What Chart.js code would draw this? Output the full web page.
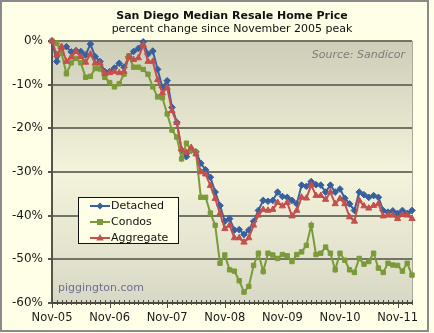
<!DOCTYPE html>
<html>
<head>
<meta charset="utf-8">
<title>San Diego Median Resale Home Price</title>
<script src="https://cdn.jsdelivr.net/npm/chart.js@4.4.1/dist/chart.umd.min.js"></script>
<style>
  html, body { margin: 0; padding: 0; background: #FFFFE8; }
  canvas { display: block; }
</style>
</head>
<body>
<canvas id="priceChart" width="434" height="333"></canvas>
<script>
// monthly series, Nov 2005 .. Feb 2012, % change from the Nov 2005 peak
const monthNames = ['Jan', 'Feb', 'Mar', 'Apr', 'May', 'Jun', 'Jul', 'Aug', 'Sep', 'Oct', 'Nov', 'Dec'];
const months = [];
for (let i = 0; i < 76; i++) {
  const m = (10 + i) % 12;
  const yr = 5 + Math.floor((10 + i) / 12);
  months.push(monthNames[m] + '-' + String(yr).padStart(2, '0'));
}
const yearTicks = ['Nov-05', 'Nov-06', 'Nov-07', 'Nov-08', 'Nov-09', 'Nov-10', 'Nov-11'];

const detached = [
  0, -4.7, -1.7, -1.3, -2.5, -2.2, -2.4, -3.2, -0.7, -3.6,
  -4.7, -7, -7, -6.2, -5.1, -6, -3.6, -2.4, -1.7, -0.2,
  -3, -2.3, -6.5, -10.6, -9.1, -15.2, -18.6, -25, -26.5, -25,
  -25.4, -28, -29.5, -31.2, -34.6, -37.7, -41.3, -40.7, -43.3, -43.2,
  -44.3, -43.3, -41.3, -38.8, -36.5, -36.7, -36.5, -34.6, -35.6, -35.8,
  -36.5, -37.3, -33, -33.3, -32.2, -32.9, -33, -34.6, -33, -34.6,
  -33.9, -36, -37.3, -38.8, -34.6, -35.2, -35.8, -35.4, -35.8, -38.8,
  -39.2, -38.9, -39.5, -38.8, -39.5, -38.8
];
const condos = [
  0, -0.5, -2.8, -7.5, -5, -4, -5, -8.3, -8.1, -6.3,
  -6.4, -8.3, -9.5, -10.5, -9.8, -7.6, -3.4, -6, -6, -6.5,
  -7.6, -10.5, -12.8, -13, -16.7, -20.4, -22, -27, -23.4, -25.1,
  -25.5, -35.8, -35.8, -39.4, -42.2, -50.9, -49, -52.4, -52.7, -54.9,
  -57.5, -56.2, -51.4, -48.6, -52.8, -48.6, -49, -49.8, -48.9, -49.2,
  -50.5, -48.9, -48.3, -46.8, -42.2, -48.9, -48.6, -47.2, -48.6, -52.4,
  -48.6, -50.2, -52.4, -53, -49.8, -51.1, -50.5, -48.6, -52, -53,
  -50.9, -51.3, -51.4, -52.7, -50.9, -53.6
];
const aggregate = [
  0, -3.2, -1.3, -4.7, -3.7, -2.4, -3.6, -4.9, -3, -5.1,
  -5.1, -7.5, -7.3, -7, -7.3, -7, -3.6, -4.3, -3.9, -0.9,
  -4.7, -4.7, -8.9, -11.9, -10.7, -16, -18.7, -24.8, -25.5, -24.4,
  -25.9, -30, -30.5, -33.1, -36.1, -39.5, -43, -42.2, -45.1, -45.1,
  -46.1, -45.1, -42.2, -39.9, -38.6, -38.8, -38.6, -37, -37.8, -37,
  -40.1, -38.8, -35.8, -36, -33, -35.4, -35.4, -36.3, -34.6, -37.3,
  -36.1, -37.3, -40.3, -41.3, -36.5, -37.8, -38.3, -37.7, -37.3, -40.1,
  -39.9, -39.9, -40.7, -39.8, -39.9, -40.7
];

const BLUE = '#36609f';
const GREEN = '#7b9a38';
const RED = '#c4504c';
const FONT = 'DejaVu Sans';

Chart.defaults.font.family = FONT;
Chart.defaults.font.size = 11;
Chart.defaults.color = '#1a1a1a';

function series(label, data, color, style, radius, order) {
  return {
    label: label,
    data: data,
    borderColor: color,
    backgroundColor: color,
    borderWidth: 2,
    pointStyle: style,
    pointRadius: radius,
    pointBorderWidth: 1,
    pointBackgroundColor: color,
    pointBorderColor: color,
    tension: 0,
    clip: false,
    order: order
  };
}

// draws a legend marker the same shape as the series points
function marker(ctx, style, x, y, color) {
  ctx.fillStyle = color;
  ctx.beginPath();
  if (style === 'rectRot') {
    ctx.moveTo(x, y - 3.5); ctx.lineTo(x + 3.5, y); ctx.lineTo(x, y + 3.5); ctx.lineTo(x - 3.5, y);
  } else if (style === 'rect') {
    ctx.rect(x - 3, y - 3, 6, 6);
  } else {
    ctx.moveTo(x, y - 4); ctx.lineTo(x + 3.8, y + 2.5); ctx.lineTo(x - 3.8, y + 2.5);
  }
  ctx.closePath();
  ctx.fill();
}

const decor = {
  id: 'decor',
  beforeDraw(chart) {
    const ctx = chart.ctx;
    const a = chart.chartArea;
    ctx.save();
    ctx.fillStyle = '#FFFFE8';
    ctx.fillRect(0, 0, chart.width, chart.height);
    ctx.strokeStyle = '#8a8a8a';
    ctx.lineWidth = 2;
    ctx.strokeRect(1, 1, 427, 330);

    const g = ctx.createLinearGradient(0, a.top, 0, a.bottom);
    g.addColorStop(0, '#cdcdb8');
    g.addColorStop(0.5, '#f4f4dc');
    g.addColorStop(1, '#d8d8c6');
    ctx.fillStyle = g;
    ctx.fillRect(a.left, a.top, a.right - a.left, a.bottom - a.top);
    ctx.strokeStyle = '#a9a99a';
    ctx.lineWidth = 1;
    ctx.beginPath();
    ctx.moveTo(a.right + 0.5, a.top);
    ctx.lineTo(a.right + 0.5, a.bottom);
    ctx.stroke();

    // titles
    const cx = (a.left + a.right) / 2;
    ctx.fillStyle = '#111';
    ctx.textAlign = 'center';
    ctx.textBaseline = 'middle';
    ctx.font = 'bold 11px ' + FONT;
    ctx.fillText('San Diego Median Resale Home Price', cx, 16);
    ctx.font = '11px ' + FONT;
    ctx.fillText('percent change since November 2005 peak', cx, 29);
    ctx.restore();
  },
  beforeDatasetsDraw(chart) {
    const ctx = chart.ctx;
    const a = chart.chartArea;
    ctx.save();
    ctx.textBaseline = 'middle';
    ctx.font = 'italic 11px ' + FONT;
    ctx.fillStyle = '#7d7d78';
    ctx.textAlign = 'right';
    ctx.fillText('Source: Sandicor', a.right - 7, 55);
    ctx.font = '11px ' + FONT;
    ctx.fillStyle = '#6e6e92';
    ctx.textAlign = 'left';
    ctx.fillText('piggington.com', 58, 288);

    // bottom axis with monthly minor ticks
    const x = chart.scales.x;
    ctx.strokeStyle = '#4a4a40';
    ctx.lineWidth = 2;
    ctx.beginPath();
    ctx.moveTo(a.left, a.bottom);
    ctx.lineTo(a.right, a.bottom);
    ctx.stroke();
    ctx.lineWidth = 1;
    ctx.beginPath();
    for (let i = 0; i < months.length; i++) {
      const px = Math.round(x.getPixelForValue(i)) + 0.5;
      const major = yearTicks.includes(months[i]);
      ctx.moveTo(px, a.bottom - 3);
      ctx.lineTo(px, a.bottom + (major ? 5 : 2));
    }
    ctx.stroke();
    ctx.restore();
  },
  afterDraw(chart) {
    const ctx = chart.ctx;
    ctx.save();
    ctx.fillStyle = '#FFFFE8';
    ctx.fillRect(78.5, 197.5, 100, 46);
    ctx.strokeStyle = '#111';
    ctx.lineWidth = 1;
    ctx.strokeRect(78.5, 197.5, 100, 46);
    ctx.font = '11px ' + FONT;
    ctx.textAlign = 'left';
    ctx.textBaseline = 'middle';
    const rows = [chart.data.datasets[0], chart.data.datasets[1], chart.data.datasets[2]];
    rows.forEach((ds, k) => {
      const y = 206 + k * 16;
      ctx.strokeStyle = ds.borderColor;
      ctx.lineWidth = 2;
      ctx.beginPath();
      ctx.moveTo(90, y);
      ctx.lineTo(110, y);
      ctx.stroke();
      marker(ctx, ds.pointStyle, 100, y, ds.borderColor);
      ctx.fillStyle = '#111';
      ctx.fillText(ds.label, 111, y);
    });
    ctx.restore();
  }
};

new Chart(document.getElementById('priceChart'), {
  type: 'line',
  data: {
    labels: months,
    datasets: [
      series('Detached', detached, BLUE, 'rectRot', 3.3, 2),
      series('Condos', condos, GREEN, 'rect', 3.1, 1),
      series('Aggregate', aggregate, RED, 'triangle', 3.6, 0)
    ]
  },
  options: {
    responsive: false,
    animation: false,
    layout: { padding: { top: 41, right: 22, left: 0, bottom: 0 } },
    plugins: {
      legend: { display: false },
      title: { display: false },
      tooltip: { enabled: false }
    },
    scales: {
      x: {
        type: 'category',
        offset: false,
        grid: { display: false, drawTicks: false },
        border: { display: false },
        ticks: {
          autoSkip: false,
          maxRotation: 0,
          padding: 8,
          font: { size: 11.5 },
          callback: (v, i) => (yearTicks.includes(months[i]) ? months[i] : '')
        },
        afterFit: (s) => { s.height = 30; }
      },
      y: {
        min: -60,
        max: 0,
        ticks: {
          stepSize: 10,
          padding: 5,
          font: { size: 12 },
          callback: (v) => v + '%'
        },
        grid: { color: '#737366', lineWidth: 2, tickLength: 4, tickColor: '#555' },
        border: { display: true, color: '#555548', width: 2 },
        afterFit: (s) => { s.width = 52; }
      }
    }
  },
  plugins: [decor]
});
</script>
</body>
</html>
